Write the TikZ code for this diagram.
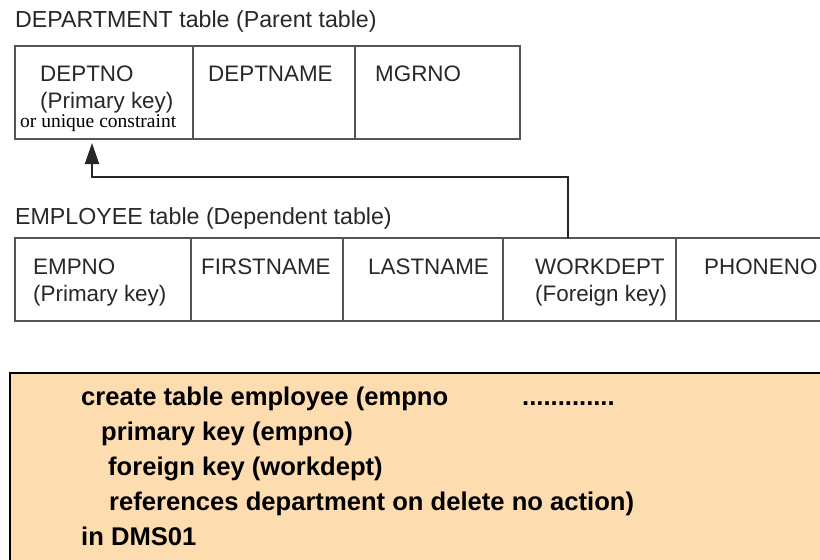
\documentclass[tikz,border=0pt]{standalone}
\usepackage{fontspec}
\setmainfont{Liberation Sans}
\newfontfamily\seriffam{Liberation Serif}
\usetikzlibrary{arrows.meta}
\definecolor{peach}{RGB}{253,220,176}
\definecolor{linegray}{RGB}{85,85,85}
\definecolor{txt}{RGB}{40,40,40}
\begin{document}
\begin{tikzpicture}[x=1pt,y=-1pt,
  cell/.style={draw=linegray, line width=2pt, inner sep=0pt, outer sep=0pt, anchor=north west},
  lbl/.style={anchor=base west, inner sep=0pt, text=txt, font=\fontsize{22.4}{26}\selectfont},
  title/.style={anchor=base west, inner sep=0pt, text=txt, font=\fontsize{23.2}{27}\selectfont},
  note/.style={anchor=base west, inner sep=0pt, text=black, font=\seriffam\fontsize{19.5}{22}\selectfont},
  code/.style={anchor=base west, inner sep=0pt, text=black, font=\fontsize{25.6}{30}\selectfont\bfseries},
  codebox/.style={draw=black, line width=2pt, fill=peach, inner sep=0pt, outer sep=0pt, anchor=north west},
  link/.style={draw=black!85, line width=2pt, shorten >=4pt, -{Triangle[length=21pt,width=14pt]}}
]
\useasboundingbox (0,0) rectangle (820,560);
\clip (0,0) rectangle (820,560);
\fill[white] (0,0) rectangle (820,560);

% DEPARTMENT table
\node[title] (deptlbl) at (15,27) {DEPARTMENT table (Parent table)};
\node[cell, minimum width=178pt, minimum height=93pt] (deptno) at (15,46) {};
\node[cell, minimum width=162pt, minimum height=93pt] (deptname) at (193,46) {};
\node[cell, minimum width=165pt, minimum height=93pt] (mgrno) at (355,46) {};
\node[lbl] (deptnoT) at (40,81) {DEPTNO};
\node[lbl] (deptnoK) at (40,108) {(Primary key)};
\node[note] (uniq) at (20,127) {or unique constraint};
\node[lbl] (deptnameT) at (208,81) {DEPTNAME};
\node[lbl] (mgrnoT) at (375,81) {MGRNO};

% EMPLOYEE table
\node[title] (emplbl) at (15,224) {EMPLOYEE table (Dependent table)};
\node[cell, minimum width=176pt, minimum height=83pt] (empno) at (15,238) {};
\node[cell, minimum width=152pt, minimum height=83pt] (firstname) at (191,238) {};
\node[cell, minimum width=160pt, minimum height=83pt] (lastname) at (343,238) {};
\node[cell, minimum width=173pt, minimum height=83pt] (workdept) at (503,238) {};
\node[cell, minimum width=184pt, minimum height=83pt] (phoneno) at (676,238) {};
\node[lbl] (empnoT) at (33,274) {EMPNO};
\node[lbl] (empnoK) at (33,301) {(Primary key)};
\node[lbl] (firstnameT) at (201,274) {FIRSTNAME};
\node[lbl] (lastnameT) at (368,274) {LASTNAME};
\node[lbl] (workdeptT) at (535,274) {WORKDEPT};
\node[lbl] (workdeptK) at (535,301) {(Foreign key)};
\node[lbl] (phonenoT) at (704,274) {PHONENO};

% foreign key link
\coordinate (bendR) at (568,177);
\coordinate (bendL) at (92,177);
\draw[link] (workdept.north -| bendR) -- (bendR) -- (bendL) -- (deptno.south -| bendL);

% SQL box
\node[codebox, minimum width=860pt, minimum height=220pt] (sqlbox) at (10,373) {};
\node[code] (l1) at (81,405) {create table employee (empno};
\node[code] (dots) at (522,405) {.............};
\node[code] (l2) at (101,440) {primary key (empno)};
\node[code] (l3) at (108,475) {foreign key (workdept)};
\node[code] (l4) at (109,510) {references department on delete no action)};
\node[code] (l5) at (81,545) {in DMS01};
\end{tikzpicture}
\end{document}
